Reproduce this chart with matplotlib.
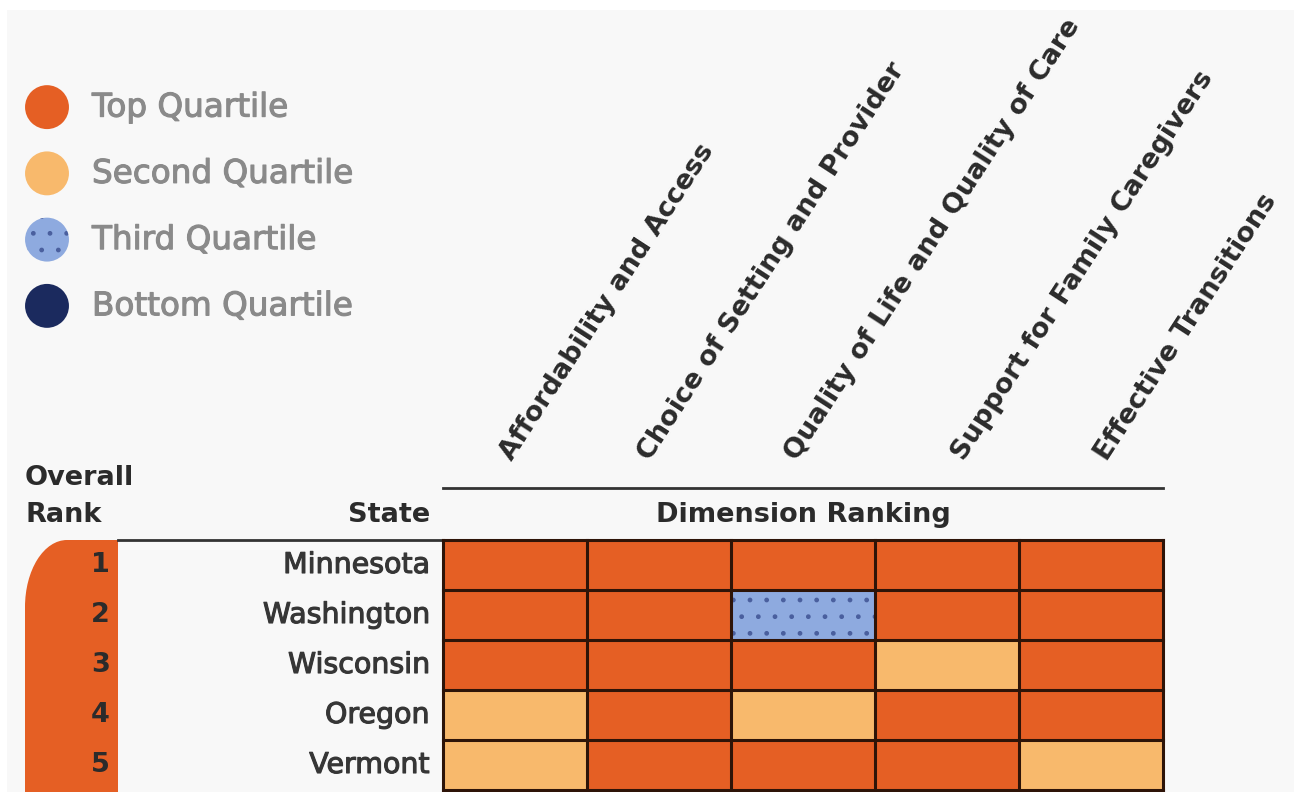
import matplotlib
matplotlib.use("Agg")
import matplotlib.pyplot as plt
import matplotlib.patheffects as pe
from matplotlib.patches import Rectangle, Ellipse

# ---------------- data ----------------
ranks = [1, 2, 3, 4, 5]
states = ["Minnesota", "Washington", "Wisconsin", "Oregon", "Vermont"]
dimensions = [
    "Affordability and Access",
    "Choice of Setting and Provider",
    "Quality of Life and Quality of Care",
    "Support for Family Caregivers",
    "Effective Transitions",
]
# 1 = top quartile, 2 = second, 3 = third, 4 = bottom
quartiles = [
    [1, 1, 1, 1, 1],
    [1, 1, 3, 1, 1],
    [1, 1, 1, 2, 1],
    [2, 1, 2, 1, 1],
    [2, 1, 1, 1, 2],
]
legend_labels = ["Top Quartile", "Second Quartile", "Third Quartile", "Bottom Quartile"]

# ---------------- style ----------------
W, H, DPI = 1294, 792, 100
BG = "#f8f8f8"
Q_COLORS = {1: "#e55f24", 2: "#f8b96c", 3: "#8eaadf", 4: "#1b2a5e"}
DOT_COLOR = "#4a5f9e"
GRID_COLOR = "#2e1408"
TEXT_DARK = "#2b2b2b"
STATE_TEXT = "#363636"
LEGEND_TEXT = "#8a8a8a"
label_nudge = [-0.02, -0.06, -0.04, 0.12, 0.11]   # small per-column x shifts of rotated labels

plt.rcParams["hatch.linewidth"] = 1.0
plt.rcParams["font.family"] = ["DejaVu Sans"]


def thicken(color, w):
    return [pe.withStroke(linewidth=w, foreground=color)]


fig = plt.figure(figsize=(W / DPI, H / DPI), dpi=DPI)
fig.patch.set_facecolor("white")
fig.add_artist(Rectangle((7 / W, 0), 1 - 7 / W, 1 - 10 / H, transform=fig.transFigure,
                         facecolor=BG, edgecolor="none", zorder=-10))

# ---------------- table axes ----------------
col_w_px, row_h_px = 144, 50
x0_px, top_px = 443, 540
ax = fig.add_axes([x0_px / W, 1 - (top_px + 5 * row_h_px) / H,
                   5 * col_w_px / W, 5 * row_h_px / H])
ax.set_xlim(0, 5)
ax.set_ylim(5, 0)
ax.axis("off")


def px_x(px):
    return (px - x0_px) / col_w_px


def px_y(py):
    return (py - top_px) / row_h_px


for r, row in enumerate(quartiles):
    for c, q in enumerate(row):
        ax.add_patch(Rectangle((c, r), 1, 1, facecolor=Q_COLORS[q], edgecolor="none", zorder=1))
        if q == 3:
            ax.add_patch(Rectangle((c, r), 1, 1, facecolor="none", edgecolor=DOT_COLOR,
                                   linewidth=0, hatch=".", zorder=2))

for c in range(len(dimensions) + 1):
    ax.plot([c, c], [0, len(states)], color=GRID_COLOR, lw=2.2, zorder=3,
            solid_capstyle="projecting", clip_on=False)
for r in range(len(states) + 1):
    ax.plot([0, len(dimensions)], [r, r], color=GRID_COLOR, lw=2.2, zorder=3,
            solid_capstyle="projecting", clip_on=False)

# header line above "Dimension Ranking"
ax.plot([0, 5], [px_y(488), px_y(488)], color="#333333", lw=2.0, clip_on=False)
ax.text(2.5, px_y(515), "Dimension Ranking", ha="center", va="center",
        fontsize=19.5, fontweight="bold", color=TEXT_DARK)

# rotated dimension labels
for c, lab in enumerate(dimensions):
    ax.text(c + 0.5 + label_nudge[c], px_y(462), lab, rotation=57,
            rotation_mode="anchor", ha="left", va="baseline",
            fontsize=19.5, fontweight="bold", color=TEXT_DARK, clip_on=False)

# state / rank headers
ax.text(px_x(25), px_y(478), "Overall", ha="left", va="center",
        fontsize=19.5, fontweight="bold", color=TEXT_DARK)
ax.text(px_x(25), px_y(515), "Rank", ha="left", va="center",
        fontsize=19.5, fontweight="bold", color=TEXT_DARK)
ax.text(px_x(430), px_y(515), "State", ha="right", va="center",
        fontsize=19.5, fontweight="bold", color=TEXT_DARK)

# line over the state column
ax.plot([px_x(118), 0], [0, 0], color="#333333", lw=2.0, clip_on=False)

# rank column orange shape (rounded top-left corner)
rl, rr = px_x(25), px_x(118)
rx, ry = 42 / col_w_px, 67 / row_h_px
shape_kw = dict(facecolor=Q_COLORS[1], edgecolor="none", clip_on=False, zorder=0)
ax.add_patch(Ellipse((rl + rx, ry), 2 * rx, 2 * ry, **shape_kw))
ax.add_patch(Rectangle((rl + rx, 0), rr - rl - rx, 5.2, **shape_kw))
ax.add_patch(Rectangle((rl, ry), rx + 0.01, 5.2 - ry, **shape_kw))

for r, (rk, st) in enumerate(zip(ranks, states)):
    ax.text(px_x(110), r + 0.5, str(rk), ha="right", va="center",
            fontsize=19.5, fontweight="bold", color=TEXT_DARK)
    ax.text(px_x(430), r + 0.5, st, ha="right", va="center",
            fontsize=20.5, color=STATE_TEXT, path_effects=thicken(STATE_TEXT, 0.8))

# ---------------- legend ----------------
lax = fig.add_axes([25 / W, 1 - 339 / H, 400 / W, 265 / H])
lax.set_xlim(0, 1)
lax.set_ylim(3.5, -0.5)
lax.axis("off")
for i, lab in enumerate(legend_labels):
    q = i + 1
    if q == 3:
        lax.scatter([0.055], [i], s=1000, facecolor=Q_COLORS[q], edgecolor=DOT_COLOR,
                    linewidth=0, hatch=".", zorder=2)
    else:
        lax.scatter([0.055], [i], s=1000, facecolor=Q_COLORS[q], edgecolor="none", zorder=2)
    lax.text(0.1675, i, lab, ha="left", va="center", fontsize=23.5, color=LEGEND_TEXT,
             path_effects=thicken(LEGEND_TEXT, 0.8))

fig.savefig("out.png", dpi=DPI, facecolor=fig.get_facecolor())
